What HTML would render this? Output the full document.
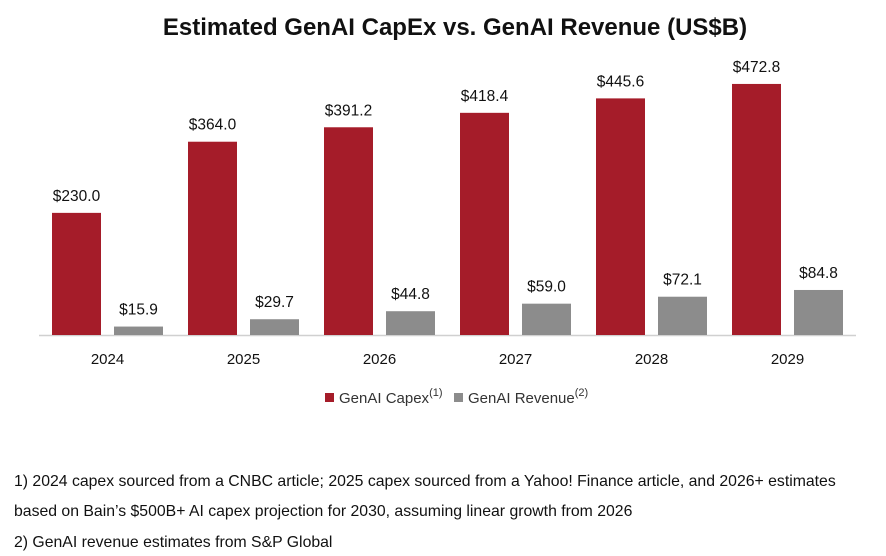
<!DOCTYPE html>
<html><head><meta charset="utf-8"><style>
body{margin:0;background:#fff;width:886px;height:556px;overflow:hidden;font-family:"Liberation Sans",sans-serif;}
.note{position:absolute;left:14px;font-size:15.8px;color:#111;white-space:nowrap;}
</style></head><body>
<svg width="886" height="556" style="position:absolute;left:0;top:0">
<text x="455" y="35" text-anchor="middle" font-size="24" font-weight="bold" fill="#111">Estimated GenAI CapEx vs. GenAI Revenue (US$B)</text>
<line x1="39" y1="335.5" x2="856" y2="335.5" stroke="#d0d0d0" stroke-width="1.5"/>
<g id="bars"></g>
<g>
<rect x="325" y="393" width="9" height="9" fill="#a51c29"/>
<text x="339" y="403" font-size="15" fill="#333">GenAI Capex<tspan dy="-7" font-size="11">(1)</tspan></text>
<rect x="454" y="393" width="9" height="9" fill="#8c8c8c"/>
<text x="468" y="403" font-size="15" fill="#333">GenAI Revenue<tspan dy="-7" font-size="11">(2)</tspan></text>
</g>
</svg>
<div class="note" style="top:473px">1) 2024 capex sourced from a CNBC article; 2025 capex sourced from a Yahoo! Finance article, and 2026+ estimates</div>
<div class="note" style="top:503px">based on Bain’s $500B+ AI capex projection for 2030, assuming linear growth from 2026</div>
<div class="note" style="top:534px">2) GenAI revenue estimates from S&amp;P Global</div>
<script>
const years=["2024","2025","2026","2027","2028","2029"];
const capex=[230.0,364.0,391.2,418.4,445.6,472.8];
const revenue=[15.9,29.7,44.8,59.0,72.1,84.8];
const NS="http://www.w3.org/2000/svg";
const g=document.getElementById('bars');
const base=335, k=0.531, x0=52, step=136, bw=49;
function y(v){return base-v*k;}
function mk(tag,attrs){const e=document.createElementNS(NS,tag);for(const a in attrs)e.setAttribute(a,attrs[a]);g.appendChild(e);return e;}
years.forEach((yr,i)=>{
  const xc=x0+i*step, xr=xc+62;
  let r=mk('rect',{x:xc,y:y(capex[i]),width:bw,height:capex[i]*k,fill:'#a51c29'});
  
  
  let t=mk('text',{x:xc+bw/2,y:y(capex[i])-12,'text-anchor':'middle','font-size':'15.5',fill:'#111'});
  t.textContent='$'+capex[i].toFixed(1);
  
  
  let r2=mk('rect',{x:xr,y:y(revenue[i]),width:bw,height:revenue[i]*k,fill:'#8c8c8c'});
  
  
  let t2=mk('text',{x:xr+bw/2,y:y(revenue[i])-12,'text-anchor':'middle','font-size':'15.5',fill:'#111'});
  t2.textContent='$'+revenue[i].toFixed(1);
  
  
  let t3=mk('text',{x:xc+55.5,y:364,'text-anchor':'middle','font-size':'15',fill:'#111'});
  t3.textContent=yr;
  
  
});
</script>
</body></html>
